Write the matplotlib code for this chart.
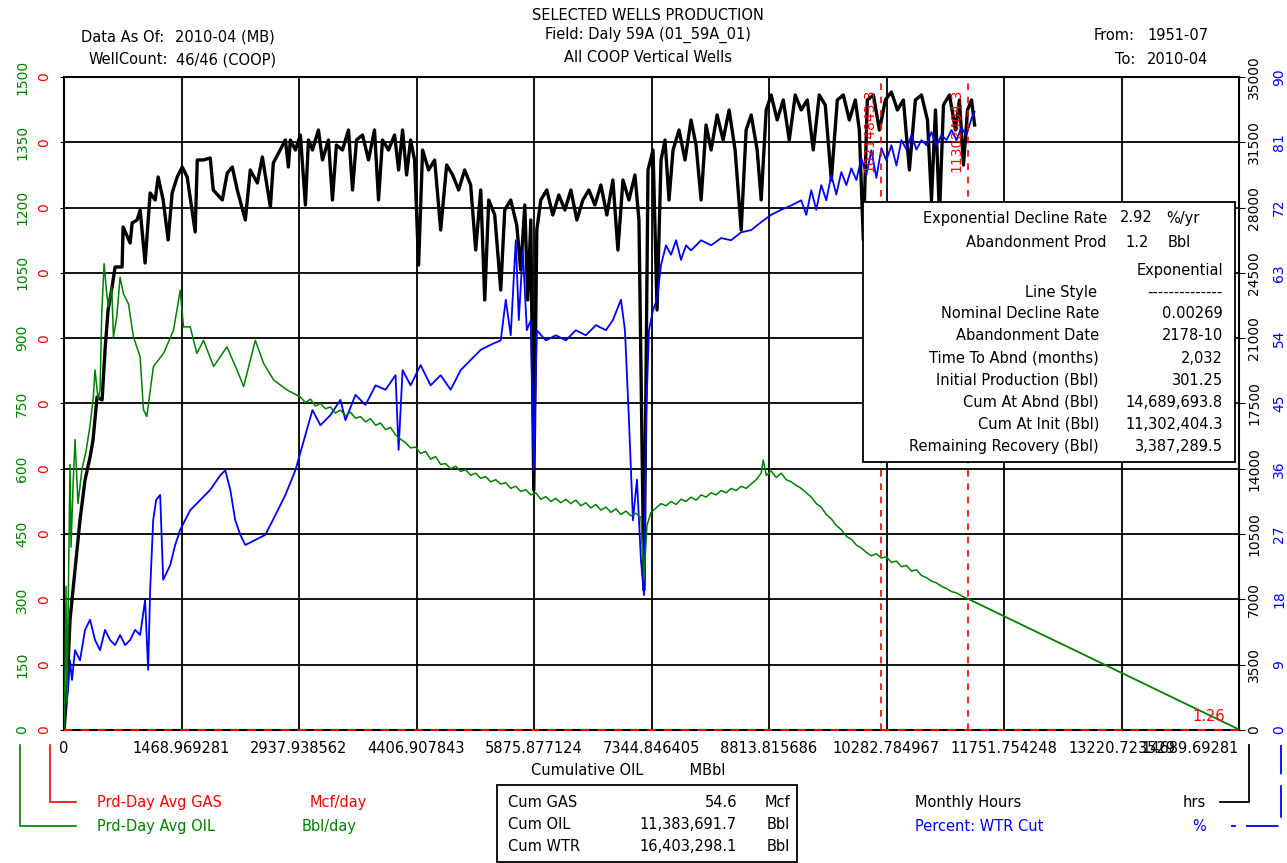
import matplotlib
matplotlib.use("Agg")
import matplotlib.pyplot as plt
from matplotlib.lines import Line2D
from matplotlib.patches import Rectangle
from matplotlib.ticker import FixedLocator, FixedFormatter

plt.rcParams["font.family"] = ["DejaVu Sans"]
plt.rcParams["font.size"] = 10.5

W, H = 1287, 863

# --- data --------------------------------------------------------------
# Prd-Day Avg OIL (Bbl/day) vs cumulative oil (MBbl)
oil_cum = [0, 13, 25, 38, 50, 75, 88, 113, 138, 175, 225, 275, 326, 367, 388,
           426, 451, 472, 501, 534, 555, 597, 618, 660, 701, 743, 806, 868,
           952, 993, 1035, 1118, 1244, 1369, 1453, 1494, 1578, 1661, 1745,
           1870, 2037, 2163, 2246, 2392, 2496, 2621, 2789,
           2955, 3018, 3081, 3143, 3206, 3268, 3331, 3394, 3456, 3519, 3582,
           3644, 3707, 3769, 3832, 3895, 3957, 4020, 4082, 4145, 4208, 4270,
           4333, 4396, 4458, 4521, 4583, 4646, 4709, 4771, 4834, 4896, 4959,
           5022, 5084, 5147, 5210, 5272, 5335, 5397, 5460, 5523, 5585, 5648,
           5710, 5773, 5836, 5898, 5961, 6024, 6086, 6149, 6211, 6274, 6337,
           6399, 6462, 6524, 6587, 6650, 6712, 6775, 6838, 6900, 6963, 7025,
           7088, 7151, 7213, 7251, 7288, 7339, 7401, 7464, 7526, 7589, 7652,
           7714, 7777, 7839, 7902, 7965, 8027, 8090, 8153, 8215, 8278, 8340,
           8403, 8466, 8528, 8591, 8653, 8716, 8741, 8779, 8841, 8904, 8966,
           9029, 9092, 9154, 9217, 9280, 9342, 9405, 9467, 9530, 9593, 9655,
           9718, 9781, 9843, 9906, 9968, 10031, 10094, 10156, 10219, 10281,
           10344, 10407, 10469, 10532, 10595, 10657, 10720, 10782, 10845,
           10908, 10970, 11033, 11095, 11158, 11220, 11302]
oil_rate = [0, 120, 330, 60, 250, 610, 420, 560, 667, 520, 600, 640, 700, 766,
            827, 760, 781, 956, 1071, 1002, 972, 1017, 903, 949, 1040, 1002,
            979, 903, 857, 736, 720, 835, 865, 918, 1010, 926, 926, 865, 895,
            835, 880, 827, 789, 895, 842, 804, 781,
            765, 752, 760, 744, 750, 738, 742, 728, 735, 722, 730, 716, 720,
            708, 715, 700, 705, 690, 695, 678, 668, 660, 648, 650, 635, 640,
            622, 628, 610, 612, 600, 606, 594, 598, 585, 590, 578, 582, 570,
            575, 565, 568, 555, 560, 548, 552, 540, 545, 530, 536, 525, 532,
            522, 530, 520, 528, 515, 522, 510, 518, 505, 512, 500, 508, 495,
            503, 492, 498, 488, 345, 470, 500, 510, 520, 515, 525, 518, 530,
            525, 535, 528, 540, 535, 545, 540, 550, 545, 555, 550, 560, 555,
            565, 575, 590, 620, 585, 595, 580, 590, 575, 570, 562, 555, 545,
            535, 520, 512, 495, 485, 470, 460, 445, 438, 425, 418, 408, 400,
            405, 395, 398, 385, 388, 375, 378, 365, 368, 355, 350, 342, 338,
            330, 325, 318, 315, 308, 301.25]

# exponential forecast (Cum At Init -> Cum At Abnd)
fc_cum = [11302.4043, 14689.6938]
fc_rate = [301.25, 1.2]

# Monthly Hours (hrs)
hrs_cum = [0, 38, 75, 138, 200, 263, 326, 363, 413, 476, 513, 551, 601, 639,
           726, 739, 827, 852, 914, 952, 1014, 1077, 1140, 1177, 1240, 1302,
           1352, 1415, 1478, 1540, 1640, 1666, 1741, 1828, 1866, 1979, 2041,
           2104, 2166, 2267, 2329, 2417, 2480, 2580, 2617, 2768, 2805,
           2830, 2893, 2955, 3018, 3056, 3106, 3181, 3231, 3306, 3356, 3406,
           3481, 3557, 3607, 3657, 3732, 3807, 3882, 3932, 3982, 4057, 4133,
           4183, 4233, 4283, 4333, 4383, 4433, 4483, 4558, 4634, 4709, 4784,
           4859, 4934, 5009, 5084, 5147, 5210, 5260, 5310, 5385, 5460, 5510,
           5585, 5660, 5710, 5761, 5798, 5836, 5873, 5911, 5961, 6036, 6111,
           6186, 6262, 6337, 6412, 6487, 6562, 6637, 6712, 6787, 6862, 6925,
           6988, 7063, 7138, 7188, 7251, 7301, 7364, 7414, 7464, 7514, 7564,
           7614, 7689, 7764, 7839, 7902, 7965, 8027, 8090, 8165, 8240, 8315,
           8390, 8466, 8528, 8591, 8666, 8716, 8779, 8841, 8916, 8992, 9067,
           9142, 9217, 9292, 9367, 9442, 9517, 9593, 9668, 9743, 9818, 9893,
           9943, 9993, 10043, 10119, 10194, 10269, 10344, 10419, 10494, 10569,
           10644, 10720, 10795, 10845, 10895, 10945, 10995, 11070, 11145,
           11195, 11245, 11296, 11346, 11384]
hrs_val = [0, 2144, 5896, 8576, 11256, 13400, 14633, 15544, 17849, 17688,
           20368, 22512, 23745, 24817, 24817, 26961, 26103, 27175, 27336,
           27872, 25031, 28783, 28408, 29641, 28408, 26264, 28783, 29641,
           30177, 29641, 26693, 30552, 30552, 30659, 28944, 28408, 29855,
           30177, 28944, 27336, 30016, 29319, 30713, 28033, 30391, 31624, 30177,
           31624, 31088, 31892, 28140, 31624, 31088, 32160, 30552, 31624,
           28408, 31356, 31088, 32160, 28944, 31624, 31892, 30552, 32160,
           28408, 31624, 31088, 31892, 30016, 32160, 29748, 31624, 30552,
           24924, 31088, 30016, 30552, 26800, 30284, 29748, 28944, 30016,
           29212, 25728, 28944, 23048, 28408, 27604, 23584, 27872, 28408,
           27068, 24656, 28140, 23048, 27336, 12864, 26800, 28408, 28944,
           27604, 28676, 27872, 28944, 27336, 28408, 28944, 28140, 29212,
           27604, 29480, 25728, 29480, 28408, 29748, 27336, 7504, 30016,
           31088, 22512, 30552, 31624, 28408, 31088, 32160, 30552, 32696,
           31356, 28408, 32428, 31088, 32964, 31624, 33232, 31088, 26800,
           32160, 32964, 31088, 28408, 33232, 34036, 32696, 33768, 31624,
           34036, 33232, 33768, 31088, 34036, 33500, 29480, 33768, 34036,
           32696, 33768, 32160, 26264, 33768, 34036, 32160, 33768, 34197,
           33232, 33768, 30016, 33768, 34036, 32696, 28408, 33232, 27604,
           33500, 34036, 32160, 33768, 30284, 33232, 33768, 32428]

# Percent: WTR Cut (%)
wtr_cum = [0, 25, 50, 75, 100, 138, 200, 263, 326, 388, 451, 513, 576, 639,
           701, 764, 827, 889, 952, 1014, 1052, 1077, 1115, 1152, 1202, 1240,
           1327, 1390, 1453, 1578, 1703, 1828, 1954, 2016, 2079, 2141, 2204,
           2267, 2392, 2517, 2642, 2768, 2893, 3018, 3106, 3206, 3331, 3456,
           3519, 3644, 3769, 3895, 4020, 4145, 4183, 4233, 4333, 4458, 4583,
           4709, 4834, 4959, 5084, 5210, 5335, 5460, 5523, 5585, 5648, 5686,
           5736, 5786, 5836, 5873, 5911, 6024, 6149, 6274, 6399, 6524, 6650,
           6775, 6862, 6963, 7013, 7063, 7113, 7163, 7213, 7251, 7276, 7313,
           7364, 7414, 7464, 7526, 7589, 7652, 7714, 7777, 7839, 7965, 8090,
           8215, 8340, 8466, 8591, 8716, 8841, 8966, 9092, 9217, 9280, 9342,
           9405, 9467, 9530, 9593, 9655, 9718, 9781, 9843, 9906, 9968, 10031,
           10094, 10156, 10219, 10281, 10344, 10407, 10469, 10532, 10595,
           10657, 10720, 10782, 10845, 10908, 10970, 11033, 11095, 11158,
           11220, 11283, 11346, 11384]
wtr_pct = [0, 4.1, 5.5, 9.6, 6.9, 11.0, 9.6, 13.8, 15.2, 12.4, 11.0, 13.8,
           12.4, 11.7, 13.1, 11.7, 12.4, 13.8, 13.1, 17.9, 8.3, 19.3, 28.9,
           31.7, 32.4, 20.7, 22.7, 25.5, 27.6, 30.3, 31.7, 33.1, 35.1, 35.8,
           33.1, 28.9, 26.9, 25.5, 26.2, 26.9, 29.6, 32.4, 35.8, 40.7, 44.1,
           42.0, 43.4, 45.5, 42.7, 46.2, 44.8, 47.5, 46.9, 48.9, 38.6, 49.6,
           47.5, 50.3, 47.5, 48.9, 46.9, 49.6, 51.0, 52.4, 53.1, 53.7, 59.3,
           54.4, 67.5, 56.5, 66.1, 55.1, 56.5, 35.8, 55.1, 53.7, 54.4, 53.7,
           55.1, 54.4, 55.8, 55.1, 56.5, 59.3, 55.1, 42.7, 28.9, 34.5, 23.4,
           18.6, 42.7, 55.1, 57.9, 59.3, 64.1, 66.8, 65.5, 67.5, 64.8, 66.8,
           66.1, 67.5, 66.8, 67.8, 67.5, 68.6, 68.9, 70.0, 71.0, 71.7, 72.3,
           73.0, 71.0, 74.4, 71.7, 75.1, 73.0, 76.5, 73.8, 76.9, 75.1, 77.4,
           75.8, 78.8, 76.5, 79.9, 76.1, 80.2, 78.5, 80.6, 77.8, 81.3, 80.0,
           82.0, 80.0, 81.3, 80.6, 82.4, 80.6, 82.0, 81.3, 82.7, 81.3, 83.0,
           82.0, 84.3, 85.2]

x_ticks = [i * 1468.969281 for i in range(11)]
x_labels = ["0", "1468.969281", "2937.938562", "4406.907843", "5875.877124",
            "7344.846405", "8813.815686", "10282.784967", "11751.754248",
            "13220.723529", "14689.69281"]
oil_ticks = list(range(0, 1501, 150))
hrs_ticks = list(range(0, 35001, 3500))
wtr_ticks = list(range(0, 91, 9))

marker_cums = [10214.8433, 11302.4043]
marker_labels = ["10214843.3", "11302404.3"]

decline_rows = [("Nominal Decline Rate", "0.00269"),
                ("Abandonment Date", "2178-10"),
                ("Time To Abnd (months)", "2,032"),
                ("Initial Production (Bbl)", "301.25"),
                ("Cum At Abnd (Bbl)", "14,689,693.8"),
                ("Cum At Init (Bbl)", "11,302,404.3"),
                ("Remaining Recovery (Bbl)", "3,387,289.5")]
cum_rows = [("Cum GAS", "54.6", "Mcf"),
            ("Cum OIL", "11,383,691.7", "Bbl"),
            ("Cum WTR", "16,403,298.1", "Bbl")]

GREEN = "#008000"
BLUE = "#0000ff"
RED = "#ff0000"


def fx(px):
    return px / W


def fy(py):
    return 1 - py / H


def ftext(px, py, s, **kw):
    kw.setdefault("va", "center")
    return fig.text(fx(px), fy(py), s, **kw)


def fline(xs, ys, **kw):
    fig.add_artist(Line2D([fx(v) for v in xs], [fy(v) for v in ys],
                          transform=fig.transFigure, **kw))


fig = plt.figure(figsize=(W / 100, H / 100), dpi=100)
ax = fig.add_axes([fx(64), fy(730), (1239 - 64) / W, (730 - 77) / H])
ax_g = ax.twinx()
ax_h = ax.twinx()
ax_w = ax.twinx()
ax_o = ax.twinx()

# main axes: grid, x axis, green labels
ax.set_xlim(0, 14689.69281)
ax.set_ylim(0, 1500)
ax.xaxis.set_major_locator(FixedLocator(x_ticks))
ax.xaxis.set_major_formatter(FixedFormatter(x_labels))
ax.yaxis.set_major_locator(FixedLocator(oil_ticks))
ax.grid(True, color="black", lw=1.3)
ax.tick_params(axis="x", length=0, pad=8, labelsize=10.5)
ax.tick_params(axis="y", length=0, pad=25, labelsize=10, labelcolor=GREEN,
               labelrotation=90)
for lab in ax.get_yticklabels():
    lab.set_va("center")
xl = ax.get_xticklabels()
xl[-1].set_ha("right")
for sp in ax.spines.values():
    sp.set_linewidth(1.5)
ax.set_xlabel("Cumulative OIL          MBbl", fontsize=10.5)
ax.xaxis.set_label_coords((628 - 64) / 1175, -(770 - 730) / 653)
ax.xaxis.label.set_va("center")

# gas axis: red zero labels
ax_g.set_ylim(0, 1500)
ax_g.yaxis.tick_left()
ax_g.yaxis.set_major_locator(FixedLocator(oil_ticks))
ax_g.yaxis.set_major_formatter(FixedFormatter(["0"] * len(oil_ticks)))
ax_g.tick_params(axis="y", length=3, pad=6, labelsize=10, labelcolor=RED,
                 labelrotation=90)
for lab in ax_g.get_yticklabels():
    lab.set_va("center")

# hours axis
ax_h.set_ylim(0, 35000)
ax_h.yaxis.set_major_locator(FixedLocator(hrs_ticks))
ax_h.tick_params(axis="y", length=4, pad=2, labelsize=10,
                 labelrotation=90)
for lab in ax_h.get_yticklabels():
    lab.set_va("center")
ax_h.plot(hrs_cum, hrs_val, color="black", lw=2.4)

# water cut axis
ax_w.set_ylim(0, 90)
ax_w.yaxis.set_major_locator(FixedLocator(wtr_ticks))
ax_w.tick_params(axis="y", length=0, pad=24, labelsize=10, labelcolor=BLUE,
                 labelrotation=90)
for lab in ax_w.get_yticklabels():
    lab.set_va("center")
ax_w.plot(wtr_cum, wtr_pct, color=BLUE, lw=1.3)

# oil on top
ax_o.set_ylim(0, 1500)
ax_o.set_yticks([])
ax_o.plot(oil_cum, oil_rate, color=GREEN, lw=1.1)
ax_o.plot(fc_cum, fc_rate, color=GREEN, lw=1.3)
ax_o.axhline(0, color=RED, lw=1.5, ls=(0, (4, 4)), clip_on=False)
for c, lab in zip(marker_cums, marker_labels):
    ax_o.axvline(c, color=RED, lw=1.2, ls=(0, (4, 4)))
    ax_o.text(c - 140, 1378, lab, color=RED, rotation=90, ha="center",
              va="center", fontsize=10)
ax_o.text(14314, 30, "1.26", color=RED, ha="center", va="center",
          fontsize=10.5)

for a in (ax_g, ax_h, ax_w, ax_o):
    for sp in a.spines.values():
        sp.set_visible(False)

# header
ftext(648, 15, "SELECTED WELLS PRODUCTION", ha="center")
ftext(648, 35, "Field: Daly 59A (01_59A_01)", ha="center")
ftext(648, 58, "All COOP Vertical Wells", ha="center")
ftext(164, 37, "Data As Of:", ha="right")
ftext(175, 37, "2010-04 (MB)", ha="left")
ftext(168, 60, "WellCount:", ha="right")
ftext(176, 60, "46/46 (COOP)", ha="left")
ftext(1135, 35, "From:", ha="right")
ftext(1147, 35, "1951-07", ha="left")
ftext(1135, 59, "To:", ha="right")
ftext(1147, 59, "2010-04", ha="left")

# decline info box
fig.add_artist(Rectangle((fx(863), fy(462)), (1235 - 863) / W, (462 - 202) / H,
                         transform=fig.transFigure, facecolor="white",
                         edgecolor="black", lw=1.3, zorder=5))
ftext(1107, 218, "Exponential Decline Rate", ha="right", zorder=6)
ftext(1120, 218, "2.92", ha="left", zorder=6)
ftext(1166, 218, "%/yr", ha="left", zorder=6)
ftext(1107, 242, "Abandonment Prod", ha="right", zorder=6)
ftext(1125, 242, "1.2", ha="left", zorder=6)
ftext(1168, 242, "Bbl", ha="left", zorder=6)
ftext(1223, 270, "Exponential", ha="right", zorder=6)
ftext(1097, 292, "Line Style", ha="right", zorder=6)
ftext(1223, 292, "--------------", ha="right", zorder=6)
for i, (name, val) in enumerate(decline_rows):
    y = 314 + i * 22
    ftext(1099, y, name, ha="right", zorder=6)
    ftext(1223, y, val, ha="right", zorder=6)

# legend, left
fline([50, 50, 76], [745, 802, 802], color=RED, lw=1.2)
fline([20, 20, 76], [745, 826, 826], color=GREEN, lw=1.2)
ftext(97, 802, "Prd-Day Avg GAS", ha="left", color=RED)
ftext(310, 802, "Mcf/day", ha="left", color=RED)
ftext(97, 826, "Prd-Day Avg OIL", ha="left", color=GREEN)
ftext(302, 826, "Bbl/day", ha="left", color=GREEN)

# cumulative box
fig.add_artist(Rectangle((fx(497), fy(862)), 300 / W, (862 - 785) / H,
                         transform=fig.transFigure, facecolor="none",
                         edgecolor="black", lw=1.3))
for i, (name, val, unit) in enumerate(cum_rows):
    y = 802 + i * 22
    ftext(508, y, name, ha="left")
    ftext(737, y, val, ha="right")
    ftext(790, y, unit, ha="right")

# legend, right
ftext(915, 802, "Monthly Hours", ha="left")
ftext(1183, 802, "hrs", ha="left")
ftext(915, 826, "Percent: WTR Cut", ha="left", color=BLUE)
ftext(1192, 826, "%", ha="left", color=BLUE)
fline([1220, 1249, 1249], [802, 802, 745], color="black", lw=1.3)
fline([1232, 1235], [826, 826], color=BLUE, lw=1.3)
fline([1246, 1281, 1281], [826, 826, 745], color=BLUE, lw=1.3,
      ls=(0, (18, 6)))

fig.savefig("out.png", dpi=100)
